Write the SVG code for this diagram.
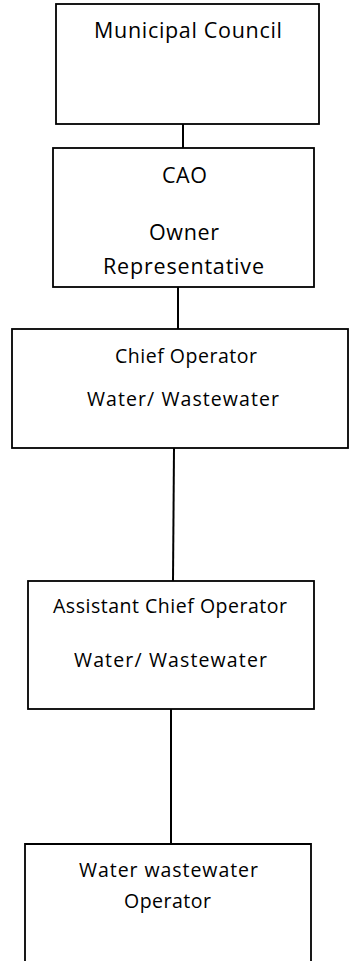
<svg xmlns="http://www.w3.org/2000/svg" width="350" height="961" viewBox="0 0 350 961">
<style>
.box{fill:#fff;stroke:#000;stroke-width:1.8}
.edge{stroke:#000;stroke-width:2;fill:none}
text{font-family:"Open Sans","Liberation Sans",sans-serif;fill:#000}
.lg{font-size:21.5px}
.sm{font-size:19.5px}
</style>
<rect width="350" height="961" fill="#fff"/>
<g id="connectors">
<line class="edge" x1="183" y1="124" x2="183" y2="148"/>
<line class="edge" x1="178" y1="287" x2="178" y2="329"/>
<line class="edge" x1="174" y1="448" x2="173" y2="581"/>
<line class="edge" x1="171" y1="709" x2="171" y2="844"/>
</g>
<g id="municipal-council">
<rect class="box" x="56" y="4" width="263" height="120"/>
<text class="lg" x="94" y="38" textLength="188" lengthAdjust="spacing">Municipal Council</text>
</g>
<g id="cao">
<rect class="box" x="53" y="148" width="261" height="139"/>
<text class="lg" x="162" y="183" textLength="45" lengthAdjust="spacing">CAO</text>
<text class="lg" x="149" y="240" textLength="70" lengthAdjust="spacing">Owner</text>
<text class="lg" x="103" y="274" textLength="161" lengthAdjust="spacing">Representative</text>
</g>
<g id="chief-operator">
<rect class="box" x="12" y="329" width="336" height="119"/>
<text class="sm" x="115" y="363" textLength="142" lengthAdjust="spacing">Chief Operator</text>
<text class="sm" x="87" y="406" textLength="192" lengthAdjust="spacing">Water/ Wastewater</text>
</g>
<g id="assistant-chief-operator">
<rect class="box" x="28" y="581" width="286" height="128"/>
<text class="sm" x="53" y="613" textLength="234" lengthAdjust="spacing">Assistant Chief Operator</text>
<text class="sm" x="74" y="667" textLength="193" lengthAdjust="spacing">Water/ Wastewater</text>
</g>
<g id="water-wastewater-operator">
<path class="box" d="M25,962 V844 H311 V962"/>
<text class="sm" x="79" y="877" textLength="179" lengthAdjust="spacing">Water wastewater</text>
<text class="sm" x="124" y="908" textLength="87" lengthAdjust="spacing">Operator</text>
</g>
</svg>
